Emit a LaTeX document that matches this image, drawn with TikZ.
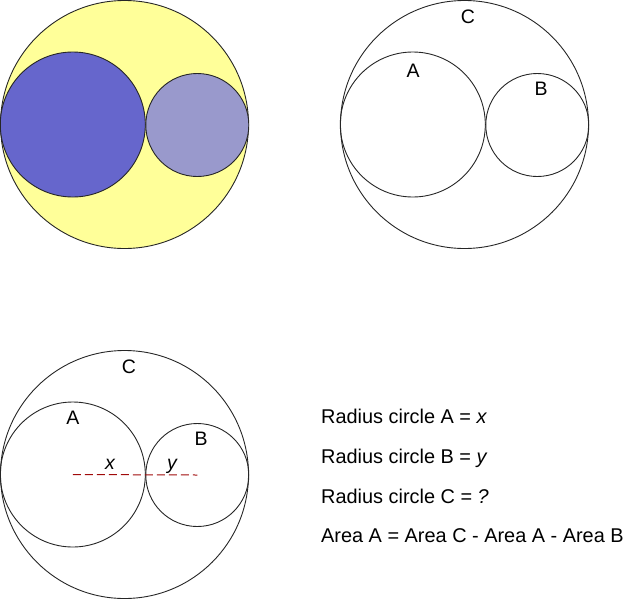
\documentclass[tikz,border=0pt]{standalone}
\usepackage{fontspec}
\setmainfont{Liberation Sans}
\begin{document}
\begin{tikzpicture}[x=1pt,y=-1pt,
  ring/.style={circle,draw=black!85,line width=0.9pt,inner sep=0pt,outer sep=0pt},
  lbl/.style={font=\fontsize{19.5}{23}\selectfont,inner sep=0pt},
  eqline/.style={font=\fontsize{19.9}{23}\selectfont,inner sep=0pt,anchor=base west}]
\definecolor{yel}{RGB}{255,255,153}
\definecolor{bluA}{RGB}{102,102,204}
\definecolor{bluB}{RGB}{153,153,204}
\definecolor{redd}{RGB}{160,10,10}
\useasboundingbox (0,0) rectangle (623,600);
% top-left coloured
\node[ring,fill=yel,minimum size=248pt] (C1) at (124.5,124.5) {};
\node[ring,fill=bluA,minimum size=145pt] (A1) at (72.8,124.5) {};
\node[ring,fill=bluB,minimum size=103pt] (B1) at (197.3,125) {};
% top-right
\node[ring,minimum size=248pt] (C2) at (464.5,124.5) {};
\node[ring,minimum size=145pt] (A2) at (412.8,124.5) {};
\node[ring,minimum size=103pt] (B2) at (537.3,125) {};
\node[lbl] (lC2) at (468,17) {C};
\node[lbl] (lA2) at (413,71) {A};
\node[lbl] (lB2) at (541,89) {B};
% bottom-left
\node[ring,minimum size=248pt] (C3) at (124.5,474.5) {};
\node[ring,minimum size=145pt] (A3) at (72.8,474.5) {};
\node[ring,minimum size=103pt] (B3) at (197.3,475) {};
\node[lbl] (lC3) at (129,367) {C};
\node[lbl] (lA3) at (73,418) {A};
\node[lbl] (lB3) at (201,439) {B};
\draw[redd,line width=1pt,dash pattern=on 8pt off 4pt] (A3.center) -- (B3.center);
\node[lbl,anchor=base] (lx) at (110,469) {\itshape x};
\node[lbl,anchor=base] (ly) at (172,469) {\itshape y};
% text
\node[eqline] (t1) at (321,423) {Radius circle A = \textit{x}};
\node[eqline] (t2) at (321,463) {Radius circle B = \textit{y}};
\node[eqline] (t3) at (321,503) {Radius circle C = \textit{?}};
\node[eqline] (t4) at (321,542) {Area A = Area C - Area A - Area B};
\end{tikzpicture}
\end{document}
